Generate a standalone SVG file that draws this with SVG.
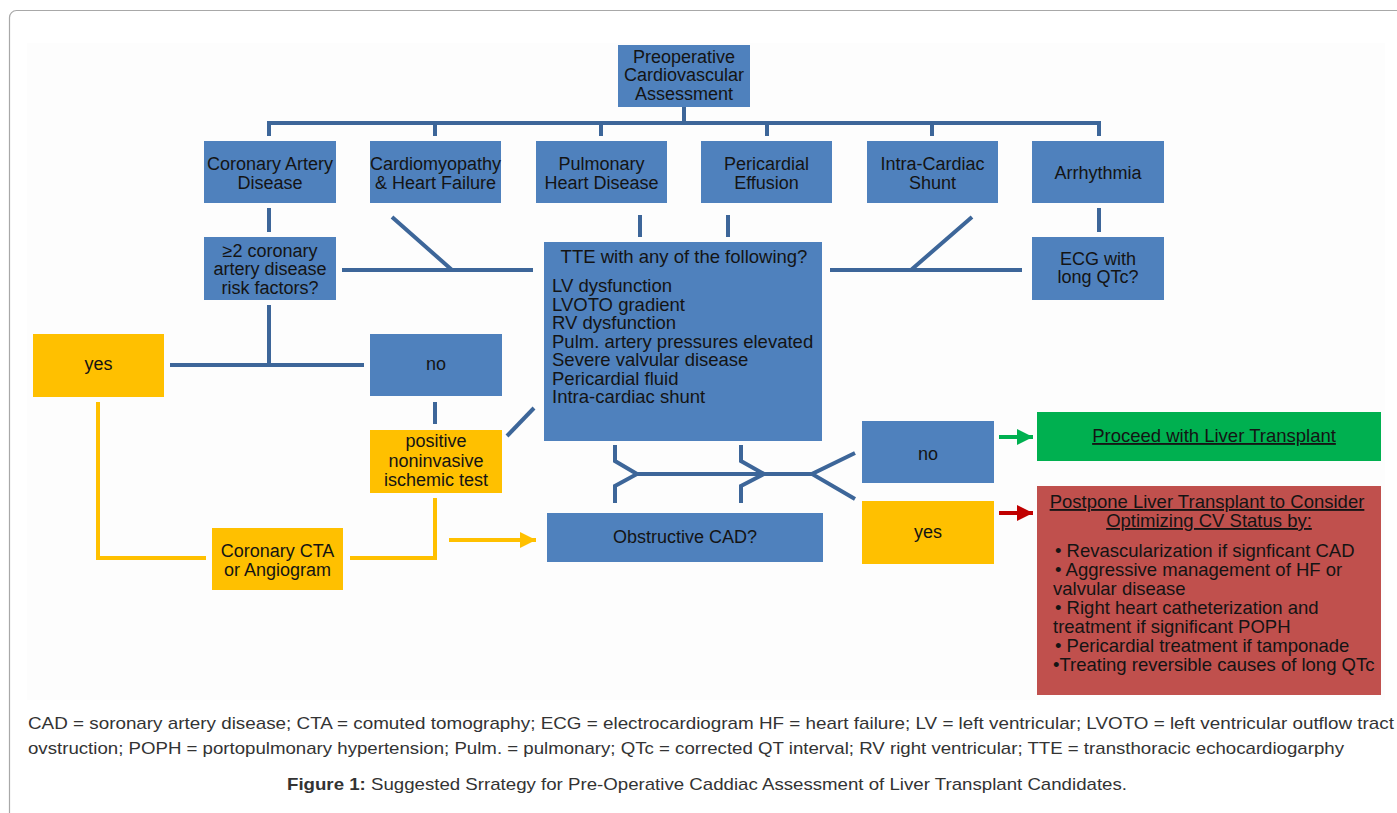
<svg xmlns="http://www.w3.org/2000/svg" width="1397" height="813" viewBox="0 0 1397 813">
<style>
.bl{fill:#4f81bd}
.yl{fill:#ffc000}
.gr{fill:#00b050}
.rd{fill:#c0504d}
text{font-family:"Liberation Sans",Arial,sans-serif;fill:#141414}
.t{font-size:18px;text-anchor:middle}
.tl{font-size:18.5px}
.c{font-size:17px;fill:#333}
.ln{fill:none;stroke:#3d6699;stroke-width:4}
.yln{fill:none;stroke:#ffc000;stroke-width:4}
</style>
<defs>
<marker id="ay" markerWidth="4" markerHeight="4" refX="4" refY="2" orient="auto" markerUnits="strokeWidth"><path d="M0,0 L4,2 L0,4 Z" fill="#ffc000"/></marker>
<marker id="ag" markerWidth="4" markerHeight="4" refX="4" refY="2" orient="auto" markerUnits="strokeWidth"><path d="M0,0 L4,2 L0,4 Z" fill="#00b050"/></marker>
<marker id="ar" markerWidth="4" markerHeight="4" refX="4" refY="2" orient="auto" markerUnits="strokeWidth"><path d="M0,0 L4,2 L0,4 Z" fill="#c00000"/></marker>
</defs>
<rect x="0" y="0" width="1397" height="813" fill="#ffffff"/>
<rect x="9.5" y="10.5" width="1410" height="900" rx="7" fill="#ffffff" stroke="#a8a8a8" stroke-width="1.2"/>
<rect x="27" y="43" width="1358" height="657" fill="#fdfdfd"/>

<g id="connectors">
<path class="ln" d="M684,107 V123"/>
<path class="ln" d="M269,136 V123 H1099 V136"/>
<path class="ln" d="M435,123 V136 M601,123 V136 M767,123 V136 M932,123 V136"/>
<path class="ln" d="M269,208 V232"/>
<path class="ln" d="M640,215 V237 M728,215 V237"/>
<path class="ln" d="M1099,208 V232"/>
<path class="ln" d="M342,270 H533 M392,217 L452,270"/>
<path class="ln" d="M830,270 H1022 M972,217 L911,270"/>
<path class="ln" d="M269,305 V365 M170,365 H364"/>
<path class="ln" d="M435,402 V424"/>
<path class="ln" d="M507,436 L534,408"/>
<path class="ln" d="M615,445 V461 L637,474 L615,486 V503"/>
<path class="ln" d="M741,445 V461 L764,474 L741,486 V503"/>
<path class="ln" d="M637,474 H812 M855,453 L812,474 L855,499"/>
<path class="yln" d="M98,402 V558 H206"/>
<path class="yln" d="M435,498 V558 H350"/>
<path class="yln" d="M449,540 H536" marker-end="url(#ay)"/>
<path d="M999,437 H1033" fill="none" stroke="#00b050" stroke-width="4" marker-end="url(#ag)"/>
<path d="M999,513 H1033" fill="none" stroke="#c00000" stroke-width="4" marker-end="url(#ar)"/>
</g>

<g id="n-preop"><rect class="bl" x="618" y="45" width="132" height="62"/>
<text class="t" x="684" y="63">Preoperative</text><text class="t" x="684" y="81">Cardiovascular</text><text class="t" x="684" y="100">Assessment</text></g>

<g id="n-cad"><rect class="bl" x="204" y="141" width="132" height="62"/>
<text class="t" x="270" y="170">Coronary Artery</text><text class="t" x="270" y="189">Disease</text></g>
<g id="n-cm"><rect class="bl" x="370" y="141" width="131" height="62"/>
<text class="t" x="435.5" y="170">Cardiomyopathy</text><text class="t" x="435.5" y="189">&amp; Heart Failure</text></g>
<g id="n-pulm"><rect class="bl" x="536" y="141" width="131" height="62"/>
<text class="t" x="601.5" y="170">Pulmonary</text><text class="t" x="601.5" y="189">Heart Disease</text></g>
<g id="n-peri"><rect class="bl" x="701" y="141" width="131" height="62"/>
<text class="t" x="766.5" y="170">Pericardial</text><text class="t" x="766.5" y="189">Effusion</text></g>
<g id="n-shunt"><rect class="bl" x="867" y="141" width="131" height="62"/>
<text class="t" x="932.5" y="170">Intra-Cardiac</text><text class="t" x="932.5" y="189">Shunt</text></g>
<g id="n-arr"><rect class="bl" x="1032" y="141" width="132" height="62"/>
<text class="t" x="1098" y="179">Arrhythmia</text></g>

<g id="n-risk"><rect class="bl" x="204" y="237" width="132" height="63"/>
<text class="t" x="270" y="257">≥2 coronary</text><text class="t" x="270" y="275">artery disease</text><text class="t" x="270" y="294">risk factors?</text></g>

<g id="n-tte"><rect class="bl" x="544" y="242" width="278" height="199"/>
<text class="tl" x="684" y="263" text-anchor="middle">TTE with any of the following?</text>
<text class="tl" x="552" y="292">LV dysfunction</text>
<text class="tl" x="552" y="310.5">LVOTO gradient</text>
<text class="tl" x="552" y="329">RV dysfunction</text>
<text class="tl" x="552" y="347.5">Pulm. artery pressures elevated</text>
<text class="tl" x="552" y="366">Severe valvular disease</text>
<text class="tl" x="552" y="384.5">Pericardial fluid</text>
<text class="tl" x="552" y="403">Intra-cardiac shunt</text></g>

<g id="n-ecg"><rect class="bl" x="1032" y="237" width="132" height="63"/>
<text class="t" x="1098" y="265">ECG with</text><text class="t" x="1098" y="283">long QTc?</text></g>

<g id="n-yes1"><rect class="yl" x="33" y="334" width="131" height="63"/>
<text class="t" x="98.5" y="370">yes</text></g>
<g id="n-no1"><rect class="bl" x="370" y="334" width="132" height="62"/>
<text class="t" x="436" y="370">no</text></g>

<g id="n-pos"><rect class="yl" x="370" y="430" width="132" height="63"/>
<text class="t" x="436" y="447">positive</text><text class="t" x="436" y="467">noninvasive</text><text class="t" x="436" y="486">ischemic test</text></g>

<g id="n-cta"><rect class="yl" x="212" y="528" width="131" height="62"/>
<text class="t" x="277.5" y="557">Coronary CTA</text><text class="t" x="277.5" y="576">or Angiogram</text></g>

<g id="n-obs"><rect class="bl" x="547" y="513" width="276" height="49"/>
<text class="t" x="685" y="543">Obstructive CAD?</text></g>

<g id="n-no2"><rect class="bl" x="862" y="421" width="132" height="62"/>
<text class="t" x="928" y="460">no</text></g>
<g id="n-yes2"><rect class="yl" x="862" y="501" width="132" height="63"/>
<text class="t" x="928" y="538">yes</text></g>

<g id="n-proceed"><rect class="gr" x="1037" y="412" width="344" height="49"/>
<text class="tl" x="1214" y="442" text-anchor="middle" text-decoration="underline">Proceed with Liver Transplant</text></g>

<g id="n-postpone"><rect class="rd" x="1037" y="486" width="344" height="209"/>
<text class="tl" x="1207" y="508" text-anchor="middle" text-decoration="underline">Postpone Liver Transplant to Consider</text>
<text class="tl" x="1209" y="527" text-anchor="middle" text-decoration="underline">Optimizing CV Status by:</text>
<text class="tl" x="1055" y="557">• Revascularization if signficant CAD</text>
<text class="tl" x="1055" y="576">• Aggressive management of HF or</text>
<text class="tl" x="1053" y="595">valvular disease</text>
<text class="tl" x="1055" y="614">• Right heart catheterization and</text>
<text class="tl" x="1053" y="633">treatment if significant POPH</text>
<text class="tl" x="1055" y="652">• Pericardial treatment if tamponade</text>
<text class="tl" x="1053" y="671">•Treating reversible causes of long QTc</text></g>

<g id="caption">
<text class="c" x="28" y="729" textLength="1366" lengthAdjust="spacingAndGlyphs">CAD = soronary artery disease; CTA = comuted tomography; ECG = electrocardiogram HF = heart failure; LV = left ventricular; LVOTO = left ventricular outflow tract</text>
<text class="c" x="28" y="754" textLength="1316" lengthAdjust="spacingAndGlyphs">ovstruction; POPH = portopulmonary hypertension; Pulm. = pulmonary; QTc = corrected QT interval; RV right ventricular; TTE = transthoracic echocardiogarphy</text>
<text class="c" x="287" y="790" textLength="840" lengthAdjust="spacingAndGlyphs"><tspan font-weight="bold">Figure 1:</tspan> Suggested Srrategy for Pre-Operative Caddiac Assessment of Liver Transplant Candidates.</text>
</g>
</svg>
